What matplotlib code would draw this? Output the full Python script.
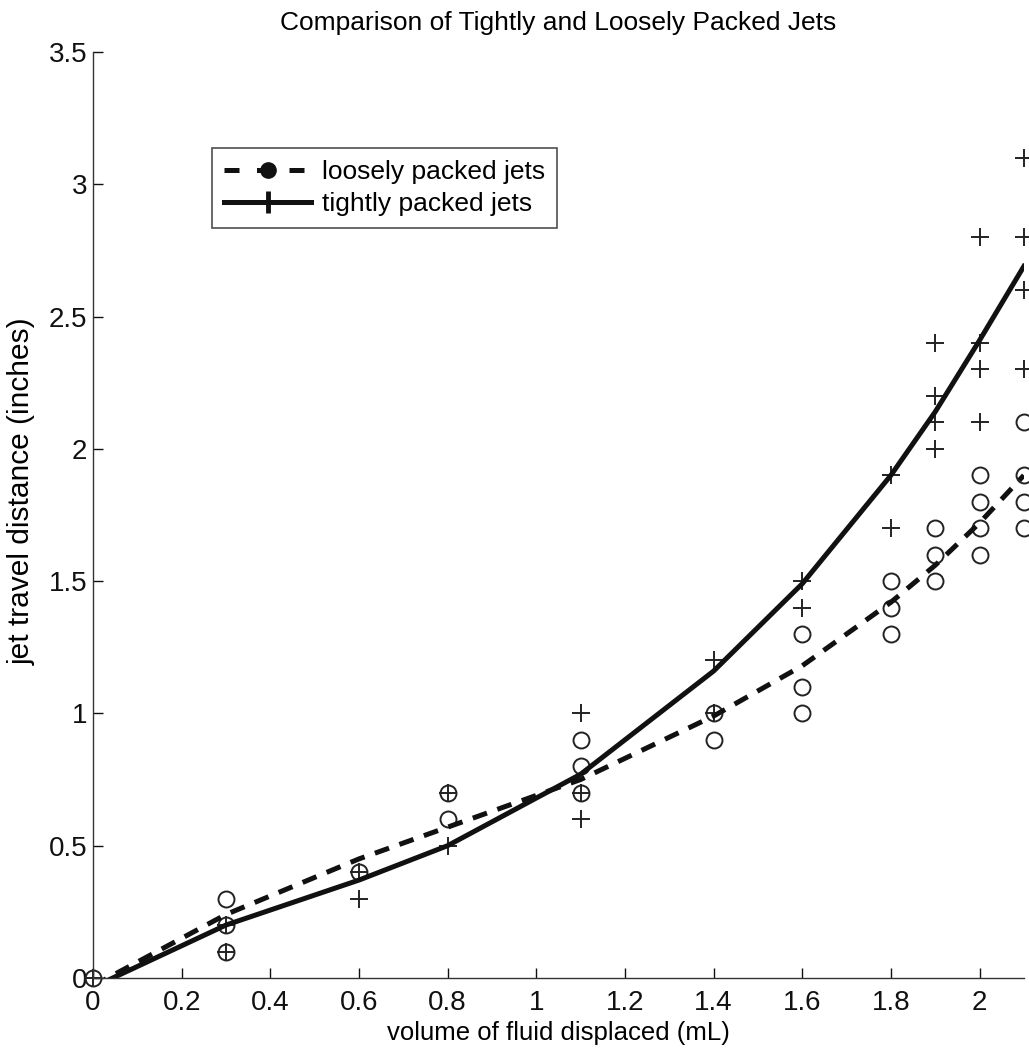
import matplotlib
matplotlib.use("Agg")
import matplotlib.pyplot as plt
from matplotlib.lines import Line2D

plt.rcParams['font.family'] = ['Liberation Sans', 'DejaVu Sans']

# Loosely packed jets (circles)
loose_x = [0, 0.3, 0.3, 0.3, 0.6, 0.8, 0.8, 1.1, 1.1, 1.1, 1.4, 1.4,
           1.6, 1.6, 1.6, 1.8, 1.8, 1.8, 1.9, 1.9, 1.9,
           2.0, 2.0, 2.0, 2.0, 2.1, 2.1, 2.1, 2.1]
loose_y = [0, 0.3, 0.2, 0.1, 0.4, 0.7, 0.6, 0.9, 0.8, 0.7, 1.0, 0.9,
           1.3, 1.1, 1.0, 1.5, 1.4, 1.3, 1.7, 1.6, 1.5,
           1.9, 1.8, 1.7, 1.6, 2.1, 1.9, 1.8, 1.7]

# Tightly packed jets (plus)
tight_x = [0, 0.3, 0.3, 0.6, 0.6, 0.8, 0.8, 1.1, 1.1, 1.1, 1.4, 1.4,
           1.6, 1.6, 1.8, 1.8, 1.9, 1.9, 1.9, 1.9,
           2.0, 2.0, 2.0, 2.0, 2.1, 2.1, 2.1, 2.1]
tight_y = [0, 0.2, 0.1, 0.4, 0.3, 0.7, 0.5, 1.0, 0.7, 0.6, 1.2, 1.0,
           1.5, 1.4, 1.9, 1.7, 2.4, 2.2, 2.1, 2.0,
           2.8, 2.4, 2.3, 2.1, 3.1, 2.8, 2.6, 2.3]

# Fit curves
fit_x = [0, 0.3, 0.6, 0.8, 1.1, 1.4, 1.6, 1.8, 1.9, 2.0, 2.1]
loose_fit = [-0.03, 0.24, 0.45, 0.57, 0.75, 0.99, 1.18, 1.42, 1.56, 1.72, 1.90]
tight_fit = [-0.035, 0.20, 0.37, 0.50, 0.77, 1.16, 1.49, 1.90, 2.14, 2.41, 2.69]

xticks = [0, 0.2, 0.4, 0.6, 0.8, 1, 1.2, 1.4, 1.6, 1.8, 2]
xticklabels = ['0', '0.2', '0.4', '0.6', '0.8', '1', '1.2', '1.4', '1.6', '1.8', '2']
yticks = [0, 0.5, 1, 1.5, 2, 2.5, 3, 3.5]
yticklabels = ['0', '0.5', '1', '1.5', '2', '2.5', '3', '3.5']

fig = plt.figure(figsize=(10.29, 10.51), dpi=100)
ax = fig.add_axes([0.0904, 0.0695, 0.9046, 0.881])

ax.plot(loose_x, loose_y, linestyle='none', marker='o', markersize=11.5,
        markerfacecolor='none', markeredgecolor='#222222', markeredgewidth=1.4,
        clip_on=False)
ax.plot(tight_x, tight_y, linestyle='none', marker='+', markersize=12.5,
        color='#222222', markeredgewidth=1.4, clip_on=False)
ax.plot(fit_x, loose_fit, linestyle=(0, (3, 2.2)), color='#111111', linewidth=3.6)
ax.plot(fit_x, tight_fit, linestyle='-', color='#111111', linewidth=3.6)

ax.set_xlim(0, 2.1)
ax.set_ylim(0, 3.5)
ax.set_xticks(xticks)
ax.set_xticklabels(xticklabels)
ax.set_yticks(yticks)
ax.set_yticklabels(yticklabels)
ax.tick_params(direction='in', length=7, width=1, labelsize=20, colors='#111111')
ax.tick_params(axis='x', pad=9)
ax.tick_params(axis='y', pad=4)
ax.spines['top'].set_visible(False)
ax.spines['right'].set_visible(False)
for s in ('left', 'bottom'):
    ax.spines[s].set_linewidth(1.0)
    ax.spines[s].set_color('#333333')

ax.set_xlabel('volume of fluid displaced (mL)', fontsize=18.5, labelpad=3)
ax.set_ylabel('jet travel distance (inches)', fontsize=21.5)
ax.yaxis.set_label_coords(-0.062, 0.526)
ax.set_title('Comparison of Tightly and Loosely Packed Jets', fontsize=19, pad=16)

handles = [
    Line2D([0], [0], linestyle=(0, (3, 3.5)), color='#111111', linewidth=3.6,
           marker='o', markersize=11, markerfacecolor='#111111', markeredgecolor='#111111'),
    Line2D([0], [0], linestyle='-', color='#111111', linewidth=3.6,
           marker='+', markersize=16, markeredgewidth=3.5, markeredgecolor='#111111'),
]
leg = ax.legend(handles, ['loosely packed jets', 'tightly packed jets'],
                loc='upper left', bbox_to_anchor=(0.128, 0.896), fontsize=19,
                frameon=True, fancybox=False, edgecolor='#222222',
                handlelength=3.3, handletextpad=0.4, borderpad=0.45,
                labelspacing=0.3, borderaxespad=0)
leg.get_frame().set_linewidth(1.2)

fig.savefig('out.png', dpi=100)
